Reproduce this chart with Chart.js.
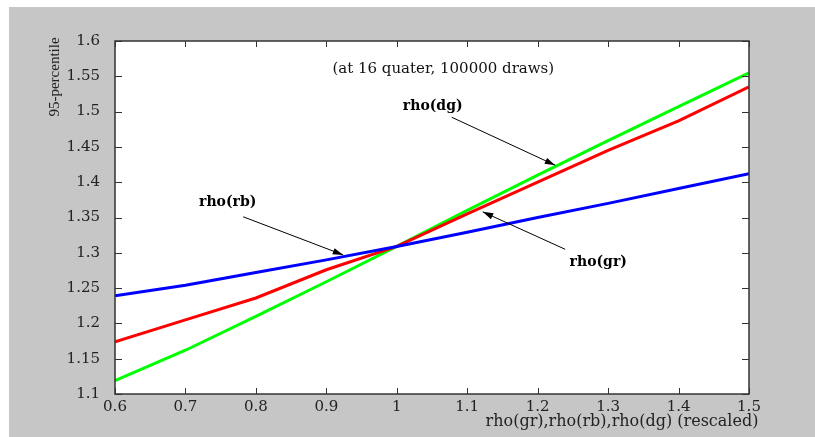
<!DOCTYPE html>
<html>
<head>
<meta charset="utf-8">
<script src="https://cdn.jsdelivr.net/npm/chart.js@4.4.1/dist/chart.umd.min.js"></script>
<style>
  body { margin: 0; background: #fff; }
  canvas { display: block; }
</style>
</head>
<body>
<canvas id="mychart" width="815" height="437"></canvas>
<script>
// x values (rescaled rho) and the 95-percentile for each parameter
var xValues = [0.6, 0.7, 0.8, 0.9, 1.0, 1.1, 1.2, 1.3, 1.4, 1.5];
var rhoGr = [1.174, 1.205, 1.236, 1.276, 1.309, 1.355, 1.400, 1.445, 1.487, 1.535];
var rhoRb = [1.239, 1.254, 1.272, 1.290, 1.309, 1.329, 1.350, 1.370, 1.391, 1.412];
var rhoDg = [1.119, 1.162, 1.210, 1.259, 1.309, 1.360, 1.410, 1.459, 1.507, 1.555];

var xTicks = [0.6, 0.7, 0.8, 0.9, 1.0, 1.1, 1.2, 1.3, 1.4, 1.5];
var xTickLabels = ["0.6", "0.7", "0.8", "0.9", "1", "1.1", "1.2", "1.3", "1.4", "1.5"];
var yTicks = [1.1, 1.15, 1.2, 1.25, 1.3, 1.35, 1.4, 1.45, 1.5, 1.55, 1.6];
var yTickLabels = ["1.1", "1.15", "1.2", "1.25", "1.3", "1.35", "1.4", "1.45", "1.5", "1.55", "1.6"];

// labels with arrows: text position, arrow start, arrow tip (data units)
var notes = [
    { text: "rho(rb)", at: [0.760, 1.371], from: [0.782, 1.351], to: [0.924, 1.297] },
    { text: "rho(dg)", at: [1.051, 1.508], from: [1.078, 1.492], to: [1.225, 1.424] },
    { text: "rho(gr)", at: [1.286, 1.286], from: [1.239, 1.305], to: [1.122, 1.358] }
];
var subTitle = "(at 16 quater, 100000 draws)";
var xTitle = "rho(gr),rho(rb),rho(dg) (rescaled)";
var yTitle = "95-percentile";

function toPoints(ys) {
    return xValues.map(function (x, i) { return { x: x, y: ys[i] }; });
}

function makeSet(label, ys, color) {
    return {
        label: label,
        data: toPoints(ys),
        borderColor: color,
        backgroundColor: color,
        borderWidth: 3,
        pointRadius: 0,
        fill: false,
        tension: 0
    };
}

// matlab style: grey figure, black frame, ticks pointing inwards, notes
var matlabLook = {
    id: "matlabLook",
    beforeDraw: function (chart) {
        var ctx = chart.ctx;
        ctx.save();
        ctx.fillStyle = "#c6c6c6";
        ctx.fillRect(9, 7, chart.width - 9, chart.height - 7);
        var a = chart.chartArea;
        ctx.fillStyle = "#fff";
        ctx.fillRect(a.left, a.top, a.right - a.left, a.bottom - a.top);
        ctx.restore();
    },
    afterDraw: function (chart) {
        var ctx = chart.ctx;
        var a = chart.chartArea;
        var xs = chart.scales.x, ys = chart.scales.y;
        ctx.save();
        ctx.strokeStyle = "#333";
        ctx.lineWidth = 1.5;
        ctx.strokeRect(a.left, a.top, a.right - a.left, a.bottom - a.top);
        ctx.lineWidth = 1;
        ctx.beginPath();
        xTicks.forEach(function (v) {
            var p = Math.round(xs.getPixelForValue(v)) + 0.5;
            ctx.moveTo(p, a.bottom); ctx.lineTo(p, a.bottom - 6);
            ctx.moveTo(p, a.top); ctx.lineTo(p, a.top + 6);
        });
        yTicks.forEach(function (v) {
            var p = Math.round(ys.getPixelForValue(v)) + 0.5;
            ctx.moveTo(a.left, p); ctx.lineTo(a.left + 7, p);
            ctx.moveTo(a.right, p); ctx.lineTo(a.right - 7, p);
        });
        ctx.stroke();

        ctx.fillStyle = "#111";
        ctx.textAlign = "center";
        ctx.textBaseline = "middle";
        ctx.font = "15px 'DejaVu Serif'";
        ctx.fillText(subTitle, xs.getPixelForValue(1.066), ys.getPixelForValue(1.560));

        ctx.fillStyle = "#222";
        ctx.font = "16px 'DejaVu Serif'";
        ctx.fillText(xTitle, 622, 422);

        ctx.save();
        ctx.translate(55, 77);
        ctx.rotate(-Math.PI / 2);
        ctx.font = "15px 'Liberation Serif'";
        ctx.fillText(yTitle, 0, 0);
        ctx.restore();

        notes.forEach(function (n) {
            ctx.fillStyle = "#000";
            ctx.font = "bold 14px 'DejaVu Serif'";
            ctx.fillText(n.text, xs.getPixelForValue(n.at[0]), ys.getPixelForValue(n.at[1]));
            var x1 = xs.getPixelForValue(n.from[0]), y1 = ys.getPixelForValue(n.from[1]);
            var x2 = xs.getPixelForValue(n.to[0]), y2 = ys.getPixelForValue(n.to[1]);
            ctx.strokeStyle = "#000";
            ctx.lineWidth = 1;
            ctx.beginPath();
            ctx.moveTo(x1, y1);
            ctx.lineTo(x2, y2);
            ctx.stroke();
            var ang = Math.atan2(y2 - y1, x2 - x1);
            ctx.beginPath();
            ctx.moveTo(x2, y2);
            ctx.lineTo(x2 - 11 * Math.cos(ang - 0.3), y2 - 11 * Math.sin(ang - 0.3));
            ctx.lineTo(x2 - 11 * Math.cos(ang + 0.3), y2 - 11 * Math.sin(ang + 0.3));
            ctx.closePath();
            ctx.fill();
        });
        ctx.restore();
    }
};

var tickFont = { family: "'DejaVu Serif'", size: 15 };

new Chart(document.getElementById("mychart"), {
    type: "line",
    data: {
        datasets: [
            makeSet("rho(rb)", rhoRb, "#0000ff"),
            makeSet("rho(gr)", rhoGr, "#ff0000"),
            makeSet("rho(dg)", rhoDg, "#00ff00")
        ]
    },
    options: {
        responsive: false,
        animation: false,
        layout: { padding: { left: 0, top: 41, right: 66, bottom: 0 } },
        plugins: { legend: { display: false }, tooltip: { enabled: false } },
        scales: {
            x: {
                type: "linear",
                min: 0.6,
                max: 1.5,
                grid: { display: false },
                border: { display: false },
                afterBuildTicks: function (s) { s.ticks = xTicks.map(function (v) { return { value: v }; }); },
                afterFit: function (s) { s.height = 43; },
                ticks: {
                    padding: -4,
                    color: "#222",
                    font: tickFont,
                    maxRotation: 0,
                    autoSkip: false,
                    callback: function (v, i) { return xTickLabels[i]; }
                }
            },
            y: {
                type: "linear",
                min: 1.1,
                max: 1.6,
                grid: { display: false },
                border: { display: false },
                afterBuildTicks: function (s) { s.ticks = yTicks.map(function (v) { return { value: v }; }); },
                afterFit: function (s) { s.width = 115; },
                ticks: {
                    padding: 7,
                    color: "#222",
                    font: tickFont,
                    autoSkip: false,
                    callback: function (v, i) { return yTickLabels[i]; }
                }
            }
        }
    },
    plugins: [matlabLook]
});
</script>
</body>
</html>
